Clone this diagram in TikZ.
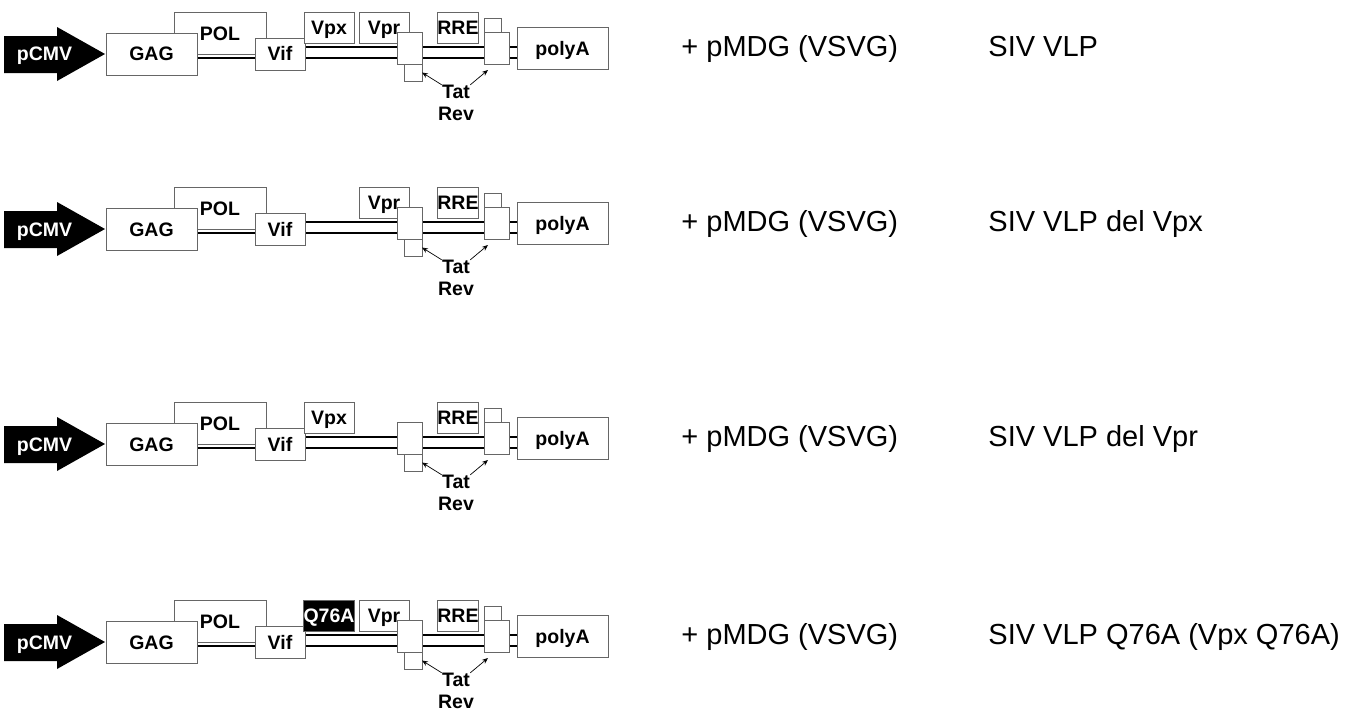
\documentclass[tikz,border=0pt]{standalone}
\usepackage{fontspec}
\setmainfont{Liberation Sans}
\usetikzlibrary{arrows.meta,backgrounds}

\newcommand\genefont{\fontsize{9.75}{11.5}\selectfont\bfseries}
\newcommand\rowfont{\fontsize{14.5}{17}\selectfont}

\begin{document}
\begin{tikzpicture}[x=0.5pt, y=-0.5pt,
    gene/.style={draw=gray!80!black, line width=0.4pt, fill=white, inner sep=0pt, outer sep=0pt, font=\genefont, text height=7pt, text depth=0pt},
    box/.style 2 args={minimum width=#1*0.5pt, minimum height=#2*0.5pt},
    mutant/.style={gene, fill=black, text=white},
    genome/.style={line width=0.8pt, black},
    pointer/.style={-{Stealth[length=3pt, width=2.4pt]}, line width=0.35pt},
    rowtext/.style={anchor=base west, inner sep=0pt, font=\rowfont}]
    \useasboundingbox (0,0) rectangle (1365,712);

    % Promoter and structural genes
    \foreach \r/\dy in {1/0, 2/175, 3/390, 4/588} {
        \begin{scope}[shift={(0,\dy)}]
            \fill (4,36) -- (57,36) -- (57,27) -- (105,54) -- (57,81) -- (57,73) -- (4,73) -- cycle;
            \node[font=\genefont, text=white, inner sep=0pt, text height=7pt, text depth=0pt] (pcmv\r) at (44.5,54) {pCMV};
            \node[gene, box={92}{42}] (pol\r) at (220,33) {POL};
            \node[gene, box={91}{42}] (gag\r) at (151.5,54) {GAG};
            \node[gene, box={50}{32}] (vif\r) at (280,54) {Vif};
            \node[gene, box={91}{42}] (polya\r) at (562.5,48) {polyA};
        \end{scope}
    }

    % Accessory genes
    \node[gene, box={50}{31}] (vpx1) at (329,27.5) {Vpx};
    \node[gene, box={50}{31}] (vpr1) at (384,27.5) {Vpr};
    \node[gene, box={50}{31}] (vpr2) at (384,202.5) {Vpr};
    \node[gene, box={50}{31}] (vpx3) at (329,417.5) {Vpx};
    \node[mutant, box={50}{31}] (q76a4) at (329,615.5) {Q76A};
    \node[gene, box={50}{31}] (vpr4) at (384,615.5) {Vpr};

    % Tat/Rev exons, RRE, genome and labels
    \foreach \r/\dy/\rowname in {1/0/SIV VLP, 2/175/SIV VLP del Vpx, 3/390/SIV VLP del Vpr, 4/588/SIV VLP Q76A (Vpx Q76A)} {
        \begin{scope}[shift={(0,\dy)}]
            \node[gene, box={25}{32}] (tatl\r) at (409.5,48) {};
            \node[gene, box={18}{17}] (tatls\r) at (413,72.5) {};
            \node[gene, box={40}{31}] (rre\r) at (458,27.5) {RRE};
            \node[gene, box={25}{32}] (tatr\r) at (496.5,48) {};
            \node[gene, box={17}{14}] (tatrs\r) at (492.5,25) {};
            \node[font=\genefont, inner sep=0pt] (tat\r) at (456,92) {Tat};
            \node[font=\genefont, inner sep=0pt] (rev\r) at (456,114) {Rev};
            \draw[pointer] (tat\r.north west) -- (tatls\r.east);
            \draw[pointer] (tat\r.north east) -- ([shift={(2pt,-3pt)}]tatr\r.south west);
            \node[rowtext] (vsvg\r) at (681,56.5) {+ pMDG (VSVG)};
            \node[rowtext] (name\r) at (988,56.5) {\rowname};
            \begin{scope}[on background layer]
                \draw[genome] ([yshift=3.5pt]gag\r.east) -- ([yshift=3.5pt]gag\r.east -| polya\r.west);
                \draw[genome] ([yshift=-2pt]gag\r.east) -- ([yshift=-2pt]gag\r.east -| polya\r.west);
            \end{scope}
        \end{scope}
    }

\end{tikzpicture}
\end{document}
